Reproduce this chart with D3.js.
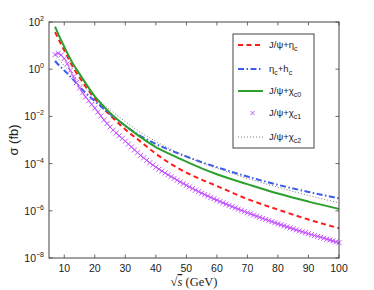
<!DOCTYPE html>
<html>
<head>
<meta charset="utf-8">
<script src="https://cdn.jsdelivr.net/npm/d3@7"></script>
<style>
  body { margin: 0; background: #fff; }
  text { font-family: "Liberation Sans", Arial, sans-serif; fill: #222; }
</style>
</head>
<body>
<div id="chart"></div>
<script>
// sqrt(s) in GeV
var energies = [7, 8, 10, 13, 15, 20, 25, 30, 35, 40, 45, 50, 55, 60, 70, 80, 90, 100]

// log10 of sigma (fb)
var psiEtac  = [1.57, 1.30, 0.80, 0.05, -0.35, -1.25, -1.95, -2.55, -3.07, -3.58, -4.02, -4.38, -4.68, -4.95, -5.50, -5.95, -6.37, -6.74]
var etacHc   = [0.35, 0.20, -0.05, -0.45, -0.75, -1.35, -1.90, -2.40, -2.83, -3.17, -3.45, -3.70, -3.94, -4.15, -4.55, -4.90, -5.20, -5.47]
var psiChic0 = [1.80, 1.50, 0.95, 0.20, -0.20, -1.15, -1.85, -2.40, -2.88, -3.30, -3.62, -3.92, -4.20, -4.45, -4.87, -5.27, -5.61, -5.92]
var psiChic1 = [0.62, 0.67, 0.45, -0.32, -0.80, -1.65, -2.45, -3.05, -3.65, -4.15, -4.55, -4.92, -5.25, -5.55, -6.08, -6.55, -6.97, -7.35]
var psiChic2 = [0.60, 0.45, 0.15, -0.25, -0.55, -1.15, -1.72, -2.22, -2.68, -3.06, -3.40, -3.70, -3.97, -4.20, -4.63, -5.00, -5.35, -5.66]

var xTicks = [10, 20, 30, 40, 50, 60, 70, 80, 90, 100]
var yTickExp = [-8, -6, -4, -2, 0, 2]

var margin = {top: 22, right: 35, bottom: 32, left: 49},
  width = 374 - margin.left - margin.right,
  height = 290 - margin.top - margin.bottom

var x = d3.scaleLinear().domain([5, 100]).range([0, width])
var y = d3.scaleLog().domain([1e-8, 1e2]).range([height, 0])

var svg = d3.select("#chart").append("svg")
    .attr("width", 374)
    .attr("height", 290)
  .append("g")
    .attr("transform", "translate(" + margin.left + "," + margin.top + ")")

var series = [
  {name: "etac", vals: psiEtac, color: "#ff1a1a", width: 2, dash: "5,3.5"},
  {name: "hc", vals: etacHc, color: "#3a5cf0", width: 2, dash: "6,2.5,1.5,2.5"},
  {name: "chic2", vals: psiChic2, color: "#777", width: 1, dash: "1,2"},
  {name: "chic0", vals: psiChic0, color: "#2ca02c", width: 2, dash: null},
  {name: "chic1", vals: psiChic1, color: "#c452ff", width: 1, dash: null, marker: true}
]

var line = d3.line()
  .x(function(d) { return x(d[0]) })
  .y(function(d) { return y(Math.pow(10, d[1])) })
  .curve(d3.curveMonotoneX)

var plot = svg.append("g")

series.forEach(function(s) {
  var pts = energies.map(function(e, i) { return [e, s.vals[i]] })
  var p = plot.append("path")
    .attr("d", line(pts))
    .attr("fill", "none")
    .attr("stroke", s.color)
    .attr("stroke-width", s.width)
    .attr("stroke-dasharray", s.dash)
  if (s.marker) {
    // x markers every 1 GeV along the curve
    var node = p.node(), total = node.getTotalLength()
    var mk = plot.append("g").attr("stroke", s.color).attr("stroke-width", 1)
    for (var e = 7; e <= 100; e++) {
      var px = x(e), lo = 0, hi = total
      for (var k = 0; k < 30; k++) {
        var mid = (lo + hi) / 2
        if (node.getPointAtLength(mid).x < px) lo = mid; else hi = mid
      }
      var pt = node.getPointAtLength(lo)
      mk.append("path").attr("d", "M" + (pt.x - 2.5) + "," + (pt.y - 2.5) + "l5,5M" + (pt.x - 2.5) + "," + (pt.y + 2.5) + "l5,-5")
    }
  }
})

// frame and inward ticks
svg.append("rect").attr("width", width).attr("height", height)
  .attr("fill", "none").attr("stroke", "#444").attr("stroke-width", 1)

var tl = 3.5
var ticks = svg.append("g").attr("stroke", "#444").attr("stroke-width", 0.8)
xTicks.forEach(function(t) {
  ticks.append("line").attr("x1", x(t)).attr("x2", x(t)).attr("y1", height).attr("y2", height - tl)
  ticks.append("line").attr("x1", x(t)).attr("x2", x(t)).attr("y1", 0).attr("y2", tl)
})
yTickExp.forEach(function(t) {
  var yy = y(Math.pow(10, t))
  ticks.append("line").attr("x1", 0).attr("x2", tl).attr("y1", yy).attr("y2", yy)
  ticks.append("line").attr("x1", width).attr("x2", width - tl).attr("y1", yy).attr("y2", yy)
})

svg.selectAll(".xl").data(xTicks).enter().append("text")
  .attr("x", function(d) { return x(d) })
  .attr("y", height + 14)
  .attr("text-anchor", "middle")
  .attr("font-size", 10.5)
  .text(function(d) { return d })

var yl = svg.selectAll(".yl").data(yTickExp).enter().append("text")
  .attr("x", -5)
  .attr("y", function(d) { return y(Math.pow(10, d)) + 4 })
  .attr("text-anchor", "end")
  .attr("font-size", 10.5)
yl.append("tspan").text("10")
yl.append("tspan").attr("dy", -5).attr("font-size", 7).text(function(d) { return d < 0 ? "\u2212" + (-d) : d })

// axis titles
svg.append("text")
  .attr("transform", "translate(-31," + (height / 2) + ") rotate(-90)")
  .attr("text-anchor", "middle")
  .attr("font-size", 13)
  .text("σ (fb)")

var xt = svg.append("text")
  .attr("x", width / 2)
  .attr("y", height + 28)
  .attr("text-anchor", "middle")
  .attr("font-size", 12.5)
  .style("font-family", "'Liberation Serif', 'DejaVu Serif', serif")
xt.append("tspan").text("\u221A")
xt.append("tspan").attr("font-style", "italic").style("text-decoration", "overline").text("s")
xt.append("tspan").text(" (GeV)")

// legend
var lg = svg.append("g").attr("transform", "translate(" + (233 - margin.left) + "," + (34 - margin.top) + ")")
lg.append("rect").attr("width", 81).attr("height", 114)
  .attr("fill", "#fff").attr("stroke", "#444").attr("stroke-width", 1)

var legendItems = [
  {s: series[0], main: "J/ψ+η", sub: "c", y: 11},
  {s: series[1], main: "η", sub: "c", rest: "+h", sub2: "c", y: 35},
  {s: series[3], main: "J/ψ+χ", sub: "c0", y: 57},
  {s: series[4], main: "J/ψ+χ", sub: "c1", y: 79},
  {s: series[2], main: "J/ψ+χ", sub: "c2", y: 103}
]
legendItems.forEach(function(it) {
  if (it.s.marker) {
    lg.append("path").attr("stroke", it.s.color).attr("stroke-width", 1)
      .attr("d", "M" + 17.5 + "," + (it.y - 2) + "l4,4M17.5," + (it.y + 2) + "l4,-4")
  } else {
    lg.append("line").attr("x1", 5).attr("x2", 30).attr("y1", it.y).attr("y2", it.y)
      .attr("stroke", it.s.color).attr("stroke-width", it.s.width).attr("stroke-dasharray", it.s.dash)
  }
  var t = lg.append("text").attr("x", 36).attr("y", it.y + 3).attr("font-size", 9.5)
  t.append("tspan").text(it.main)
  t.append("tspan").attr("dy", 3).attr("font-size", 7).text(it.sub)
  if (it.rest) {
    t.append("tspan").attr("dy", -3).text(it.rest)
    t.append("tspan").attr("dy", 3).attr("font-size", 7).text(it.sub2)
  }
})
</script>
</body>
</html>
